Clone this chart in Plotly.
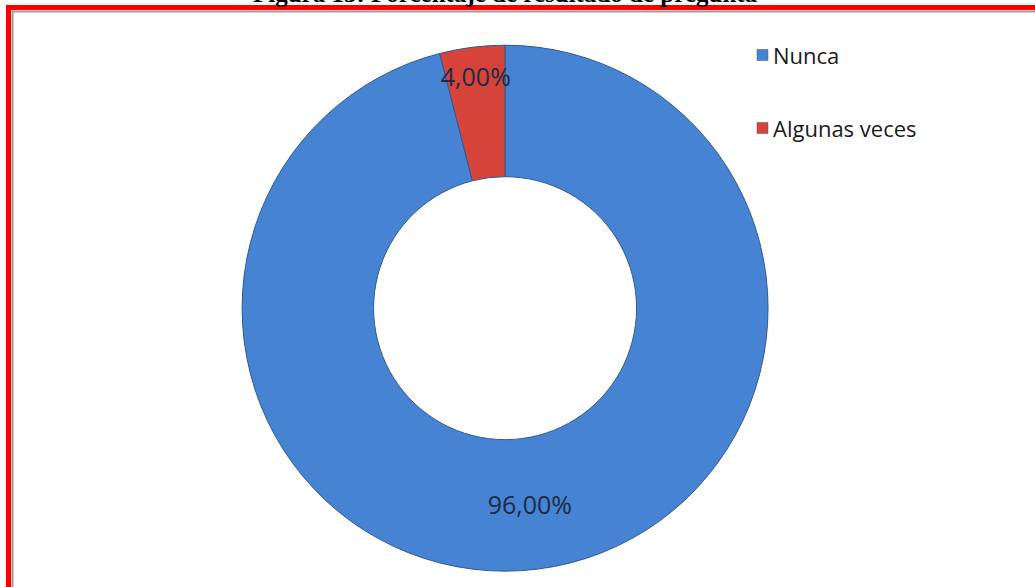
import plotly.graph_objects as go

# ─── Data ────────────────────────────────────────────────────────────────────
categories = ["Nunca", "Algunas veces"]
values = [96.0, 4.0]
slice_colors = ["#4684d3", "#d6433b"]
title_text = "Figura 13: Porcentaje de resultado de pregunta"

W, H = 1035, 587

fig = go.Figure(go.Pie(
    labels=categories,
    values=values,
    hole=0.5,
    sort=False,
    direction="clockwise",
    rotation=0,
    marker=dict(colors=slice_colors, line=dict(color="#2d5a96", width=1)),
    texttemplate="%{percent:.2%}",
    textposition="inside",
    insidetextorientation="horizontal",
    textfont=dict(family="Open Sans, sans-serif", size=25, color="#1d2a45"),
    domain=dict(x=[0.198, 0.778], y=[0.027, 0.923]),
    showlegend=False,
    hoverinfo="label+percent",
))

# hand-drawn legend (wide vertical spacing like the original)
shapes = []
annotations = []
legend_y = [55, 128]
for name, col, py in zip(categories, slice_colors, legend_y):
    shapes.append(dict(
        type="rect", xref="paper", yref="paper",
        x0=757 / W, x1=768 / W, y0=1 - (py + 5.5) / H, y1=1 - (py - 5.5) / H,
        fillcolor=col, line=dict(color="#555", width=0.5),
    ))
    annotations.append(dict(
        text=name, xref="paper", yref="paper",
        x=771 / W, y=1 - py / H, xanchor="left", yanchor="middle",
        showarrow=False,
        font=dict(family="Open Sans, sans-serif", size=22, color="#1a1a1a"),
    ))

# clipped title at the top edge
annotations.append(dict(
    text="<b>" + title_text + "</b>", xref="paper", yref="paper",
    x=505 / W, y=1, xanchor="center", yanchor="bottom", yshift=-9,
    showarrow=False,
    font=dict(family="Liberation Serif", size=25, color="#000"),
))

# red frame (open on the right and bottom, as cropped)
shapes.append(dict(
    type="rect", xref="paper", yref="paper",
    x0=12.5 / W, x1=1.02, y0=-0.02, y1=1 - 11.5 / H,
    line=dict(color="#9a9a9a", width=2), layer="above",
))
shapes.append(dict(
    type="rect", xref="paper", yref="paper",
    x0=8.5 / W, x1=1.02, y0=-0.02, y1=1 - 7.5 / H,
    line=dict(color="#ff0000", width=5), layer="above",
))

fig.update_layout(
    width=W, height=H,
    margin=dict(l=0, r=0, t=0, b=0),
    paper_bgcolor="white",
    plot_bgcolor="white",
    separators=",.",
    uniformtext=dict(minsize=22, mode="show"),
    shapes=shapes,
    annotations=annotations,
)

fig.write_html(
    "out.html",
    config={"displayModeBar": False},
    post_script="document.body.style.margin='0';document.body.style.overflow='hidden';",
)
